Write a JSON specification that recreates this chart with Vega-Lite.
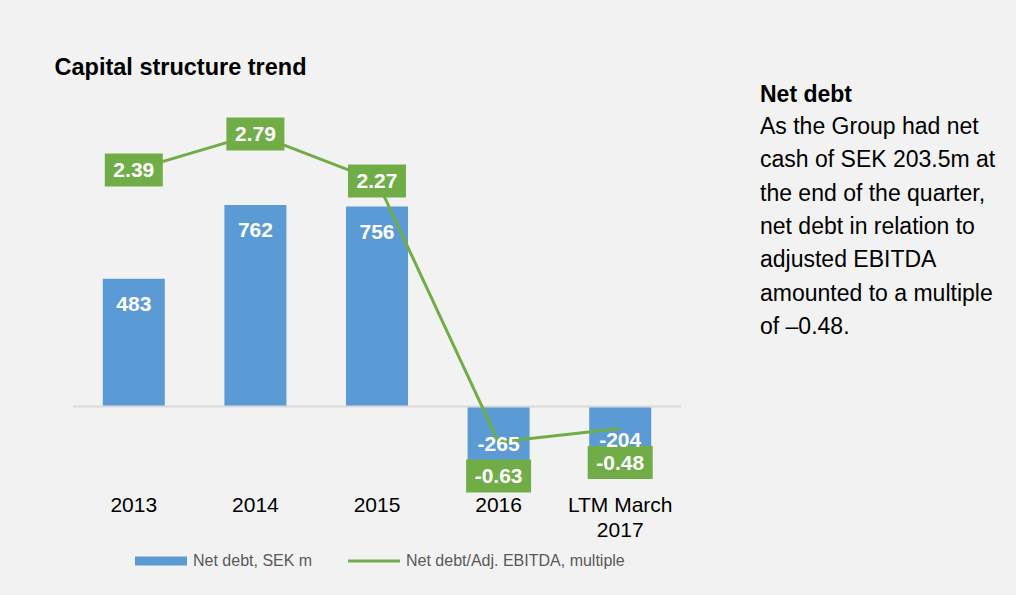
{
  "$schema": "https://vega.github.io/schema/vega-lite/v6.json",
  "autosize": {"type": "none"},
  "padding": {"left": 73, "top": 89.2, "right": 335, "bottom": 109.1},
  "width": 608,
  "height": 396.7,
  "background": "#f2f2f2",
  "config": {"view": {"stroke": null}, "font": "Liberation Sans"},
  "title": {
    "text": "Net debt",
    "subtitle": ["As the Group had net", "cash of SEK 203.5m at", "the end of the quarter,", "net debt in relation to", "adjusted EBITDA", "amounted to a multiple", "of –0.48."],
    "anchor": "end",
    "frame": "group",
    "align": "left",
    "dx": 79,
    "dy": 284,
    "offset": 0,
    "font": "Liberation Sans",
    "fontSize": 23,
    "fontWeight": "bold",
    "color": "#000000",
    "subtitleFont": "Liberation Sans",
    "subtitleFontSize": 23,
    "subtitleColor": "#000000",
    "subtitleLineHeight": 33.3,
    "subtitlePadding": 9.4
  },
  "data": {
    "values": [
      {"period": "2013", "debt": 483, "multiple": 2.39},
      {"period": "2014", "debt": 762, "multiple": 2.79},
      {"period": "2015", "debt": 756, "multiple": 2.27},
      {"period": "2016", "debt": -265, "multiple": -0.63},
      {"period": "LTM March 2017", "debt": -204, "multiple": -0.48}
    ]
  },
  "layer": [
    {
      "layer": [
        {
          "mark": {"type": "bar"},
          "encoding": {
            "x": {
              "field": "period", "type": "nominal", "sort": null,
              "scale": {"paddingInner": 0.49, "paddingOuter": 0.245},
              "axis": {
                "title": null, "labelAngle": 0, "labelFontSize": 21, "labelColor": "#000000",
                "labelFont": "Liberation Sans", "labelPadding": 8.5, "labelLineHeight": 25,
                "domain": false, "ticks": false, "grid": false,
                "labelExpr": "datum.value == 'LTM March 2017' ? ['LTM March', '2017'] : datum.value"
              }
            },
            "y": {
              "field": "debt", "type": "quantitative",
              "scale": {"domain": [-300, 1200], "nice": false, "zero": false},
              "axis": {
                "title": "Capital structure trend", "titleAngle": 0, "titleAlign": "left",
                "titleBaseline": "alphabetic", "titleX": -19, "titleY": -15.2,
                "titleFontSize": 23.5, "titleFontWeight": "bold", "titleColor": "#000000",
                "titleFont": "Liberation Sans",
                "labels": false, "ticks": false, "domain": false, "grid": false
              }
            },
            "color": {
              "datum": "Net debt, SEK m", "type": "nominal",
              "scale": {"domain": ["Net debt, SEK m", "Net debt/Adj. EBITDA, multiple"], "range": ["#5b9bd5", "#70ad47"]},
              "legend": {
                "orient": "none", "legendX": 62, "legendY": 445.8,
                "direction": "horizontal", "title": null,
                "symbolSize": 2704, "labelFontSize": 16, "labelColor": "#595959",
                "labelFont": "Liberation Sans", "labelOffset": 6, "columnPadding": 35,
                "labelLimit": 0, "padding": 0,
                "encode": {
                  "symbols": {
                    "update": {
                      "shape": {"signal": "datum.value === 'Net debt, SEK m' ? 'M-1,-0.173H1V0.173H-1Z' : 'M-1,-0.062H1V0.062H-1Z'"},
                      "fill": {"scale": "color", "field": "value"},
                      "stroke": {"value": "transparent"},
                      "strokeWidth": {"value": 0},
                      "opacity": {"value": 1}
                    }
                  }
                }
              }
            }
          }
        },
        {
          "data": {"values": [{}]},
          "mark": {"type": "rule", "color": "#d9d9d9", "strokeWidth": 2},
          "encoding": {"y": {"datum": 0, "type": "quantitative"}}
        }
      ]
    },
    {
      "layer": [
        {
          "mark": {"type": "line", "strokeWidth": 3},
          "encoding": {
            "x": {"field": "period", "type": "nominal", "sort": null},
            "y": {"field": "multiple", "type": "quantitative", "scale": {"domain": [-1.117, 3.288], "nice": false, "zero": false}, "axis": null},
            "color": {"datum": "Net debt/Adj. EBITDA, multiple", "type": "nominal"}
          }
        },
        {
          "transform": [{"filter": "datum.multiple > 0"}],
          "mark": {"type": "point", "shape": "M-1,-0.569H1V0.569H-1Z", "size": 3364, "filled": true, "opacity": 1, "color": "#70ad47", "strokeWidth": 0},
          "encoding": {
            "x": {"field": "period", "type": "nominal", "sort": null},
            "y": {"field": "multiple", "type": "quantitative"}
          }
        },
        {
          "transform": [{"filter": "datum.multiple < 0"}],
          "mark": {"type": "point", "shape": "M-1,-0.508H1V0.508H-1Z", "size": 4225, "filled": true, "opacity": 1, "color": "#70ad47", "strokeWidth": 0, "yOffset": 34},
          "encoding": {
            "x": {"field": "period", "type": "nominal", "sort": null},
            "y": {"field": "multiple", "type": "quantitative"}
          }
        },
        {
          "transform": [{"filter": "datum.multiple > 0"}],
          "mark": {"type": "text", "color": "#ffffff", "fontSize": 21, "fontWeight": "bold", "baseline": "middle", "dy": 1},
          "encoding": {
            "x": {"field": "period", "type": "nominal", "sort": null},
            "y": {"field": "multiple", "type": "quantitative"},
            "text": {"field": "multiple", "type": "nominal"}
          }
        },
        {
          "transform": [{"filter": "datum.multiple < 0"}],
          "mark": {"type": "text", "color": "#ffffff", "fontSize": 21, "fontWeight": "bold", "baseline": "middle", "dy": 35},
          "encoding": {
            "x": {"field": "period", "type": "nominal", "sort": null},
            "y": {"field": "multiple", "type": "quantitative"},
            "text": {"field": "multiple", "type": "nominal"}
          }
        }
      ]
    },
    {
      "layer": [
        {
          "transform": [{"filter": "datum.debt > 0"}],
          "mark": {"type": "text", "color": "#ffffff", "fontSize": 21, "fontWeight": "bold", "baseline": "middle", "dy": 26},
          "encoding": {
            "x": {"field": "period", "type": "nominal", "sort": null},
            "y": {"field": "debt", "type": "quantitative", "scale": {"domain": [-300, 1200], "nice": false, "zero": false}, "axis": null},
            "text": {"field": "debt", "type": "nominal"}
          }
        },
        {
          "transform": [{"filter": "datum.period == '2016'"}],
          "mark": {"type": "text", "color": "#ffffff", "fontSize": 21, "fontWeight": "bold", "baseline": "middle", "dy": -32},
          "encoding": {
            "x": {"field": "period", "type": "nominal", "sort": null},
            "y": {"field": "debt", "type": "quantitative"},
            "text": {"field": "debt", "type": "nominal"}
          }
        },
        {
          "transform": [{"filter": "datum.period == 'LTM March 2017'"}],
          "mark": {"type": "text", "color": "#ffffff", "fontSize": 21, "fontWeight": "bold", "baseline": "middle", "dy": -20},
          "encoding": {
            "x": {"field": "period", "type": "nominal", "sort": null},
            "y": {"field": "debt", "type": "quantitative"},
            "text": {"field": "debt", "type": "nominal"}
          }
        }
      ]
    }
  ],
  "resolve": {"scale": {"y": "independent"}}
}
